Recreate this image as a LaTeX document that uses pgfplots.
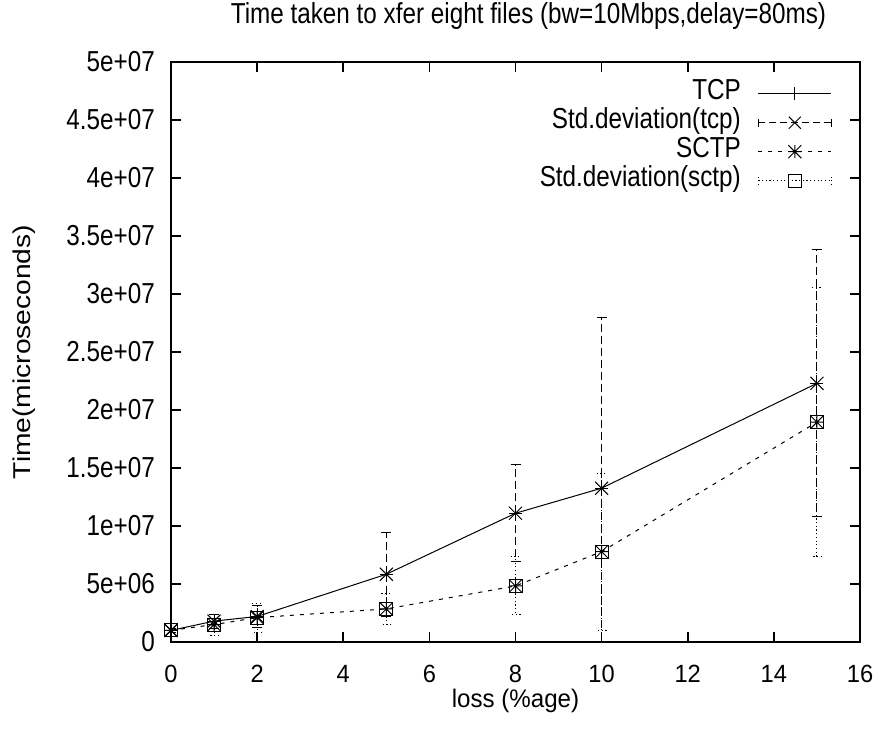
\documentclass[border=0pt]{standalone}
\usepackage{pgfplots}
\pgfplotsset{compat=1.18}
\usepackage{fontspec}
\setmainfont{Liberation Sans}[FakeStretch=0.84]
\newfontfamily\yfont{Liberation Sans}[FakeStretch=1.16]
\newfontfamily\xfont{Liberation Sans}[FakeStretch=0.95]

\pgfdeclareplotmark{gstar}{%
 \pgfpathmoveto{\pgfqpoint{-\pgfplotmarksize}{0pt}}\pgfpathlineto{\pgfqpoint{\pgfplotmarksize}{0pt}}%
 \pgfpathmoveto{\pgfqpoint{0pt}{-\pgfplotmarksize}}\pgfpathlineto{\pgfqpoint{0pt}{\pgfplotmarksize}}%
 \pgfpathmoveto{\pgfqpoint{-\pgfplotmarksize}{-\pgfplotmarksize}}\pgfpathlineto{\pgfqpoint{\pgfplotmarksize}{\pgfplotmarksize}}%
 \pgfpathmoveto{\pgfqpoint{-\pgfplotmarksize}{\pgfplotmarksize}}\pgfpathlineto{\pgfqpoint{\pgfplotmarksize}{-\pgfplotmarksize}}%
 \pgfusepathqstroke}
\pgfdeclareplotmark{gx}{%
 \pgfpathmoveto{\pgfqpoint{-\pgfplotmarksize}{-\pgfplotmarksize}}\pgfpathlineto{\pgfqpoint{\pgfplotmarksize}{\pgfplotmarksize}}%
 \pgfpathmoveto{\pgfqpoint{-\pgfplotmarksize}{\pgfplotmarksize}}\pgfpathlineto{\pgfqpoint{\pgfplotmarksize}{-\pgfplotmarksize}}%
 \pgfusepathqstroke}

\pgfplotstableread{
x    tcp      tcpsd    sctp     sctpsd
0    1.00e6   0.20e6   1.00e6   0.20e6
1    1.80e6   0.60e6   1.50e6   0.90e6
2    2.20e6   0.95e6   2.10e6   1.25e6
5    5.84e6   3.62e6   2.85e6   1.33e6
8    11.10e6  4.17e6   4.83e6   2.50e6
10   13.26e6  14.70e6  7.79e6   6.76e6
15   22.30e6  11.50e6  18.95e6  11.62e6
}\data

\begin{document}
\begin{tikzpicture}[font=\fontsize{29}{34}\selectfont]
\begin{axis}[
 name=ax,
 scale only axis, width=689bp, height=580bp,
 xmin=0, xmax=16, ymin=0, ymax=5e7,
 xtick={0,2,4,6,8,10,12,14,16},
 ytick={0,5e6,1e7,1.5e7,2e7,2.5e7,3e7,3.5e7,4e7,4.5e7,5e7},
 yticklabels={0,5e+06,1e+07,1.5e+07,2e+07,2.5e+07,3e+07,3.5e+07,4e+07,4.5e+07,5e+07},
 scaled y ticks=false,
 /pgf/number format/assume math mode=true,
 tick align=inside, major tick length=10bp,
 axis line style={line width=1.6bp},
 every tick/.style={black, line width=1.6bp},
 xticklabel style={anchor=base, yshift=-40bp, inner sep=0pt, font=\xfont\fontsize{25}{29}\selectfont},
 yticklabel style={anchor=east, inner sep=0pt, xshift=-16bp},
 title={Time taken to xfer eight files (bw=10Mbps,delay=80ms)},
 title style={at={(axis description cs:0.5,1)}, anchor=base, yshift=33bp, xshift=13bp, inner sep=0pt},
 xlabel={loss (\%age)},
 xlabel style={at={(axis description cs:0.5,0)}, anchor=base, yshift=-65bp, inner sep=0pt, font=\xfont\fontsize{25.5}{29}\selectfont},
 ylabel={\yfont\fontsize{24.4}{28}\selectfont Time(microseconds)},
 ylabel style={at={(axis description cs:-0.2134,0.5)}, anchor=center, inner sep=0pt},
 legend plot pos=right,
 legend cell align=right,
 legend style={draw=none, fill=none, at={(axis description cs:1,1)}, anchor=north east,
   xshift=-28bp, yshift=-17bp, row sep=0pt, column sep=17bp, inner sep=0pt,
   nodes={inner sep=0pt, text height=20bp, text depth=9bp}},
]
\addplot[black, line width=1bp, mark=+, mark size=6.5bp, mark options={solid},
  legend image code/.code={
    \draw[black, line width=1bp] (0bp,0bp) -- (73bp,0bp);
    \draw[black, line width=1bp, mark=+, mark size=6.5bp] plot coordinates {(36.5bp,0bp)};}]
  table[x=x, y=tcp] {\data};
\addlegendentry{TCP}
\addplot[black, only marks, mark=gx, mark size=6.5bp, mark options={solid, line width=1bp},
  legend image code/.code={
    \draw[black, line width=1bp, dash pattern=on 7bp off 4bp] (0bp,0bp) -- (73bp,0bp);
    \draw[black, line width=1bp] (0bp,-4bp) -- (0bp,4bp) (73bp,-4bp) -- (73bp,4bp);
    \draw[black, line width=1bp, mark=gx, mark size=6bp] plot coordinates {(36.5bp,0bp)};},
  error bars/.cd, y dir=both, y explicit,
  error bar style={line width=1bp, dash pattern=on 8bp off 4bp},
  error mark options={rotate=90, mark size=5bp, line width=1bp, solid, black}]
  table[x=x, y=tcp, y error=tcpsd] {\data};
\addlegendentry{Std.deviation(tcp)}
\addplot[black, line width=1bp, dash pattern=on 4bp off 6bp, mark=gstar, mark size=6.5bp, mark options={solid},
  legend image code/.code={
    \draw[black, line width=1bp, dash pattern=on 4bp off 6bp] (0bp,0bp) -- (73bp,0bp);
    \draw[black, line width=1bp, mark=gstar, mark size=6.5bp] plot coordinates {(36.5bp,0bp)};}]
  table[x=x, y=sctp] {\data};
\addlegendentry{SCTP}
\addplot[black, only marks, mark=square, mark size=6.5bp, mark options={solid, line width=1bp},
  legend image code/.code={
    \draw[black, line width=1bp, dash pattern=on 1.2bp off 2.5bp] (0bp,0bp) -- (73bp,0bp);
    \draw[black, line width=1bp, dash pattern=on 1.2bp off 2.5bp] (0bp,-4bp) -- (0bp,4bp) (73bp,-4bp) -- (73bp,4bp);
    \draw[black, line width=1bp, mark=square, mark size=6.5bp] plot coordinates {(36.5bp,0bp)};},
  error bars/.cd, y dir=both, y explicit,
  error bar style={line width=1bp, dash pattern=on 1.2bp off 2.5bp},
  error mark options={rotate=90, mark size=5bp, line width=1bp, dash pattern=on 1.2bp off 2.5bp, black}]
  table[x=x, y=sctp, y error=sctpsd] {\data};
\addlegendentry{Std.deviation(sctp)}
\end{axis}
\pgfresetboundingbox
\useasboundingbox (ax.south west) ++(-171bp,-94bp) rectangle ++(880bp,736bp);
\end{tikzpicture}
\end{document}
